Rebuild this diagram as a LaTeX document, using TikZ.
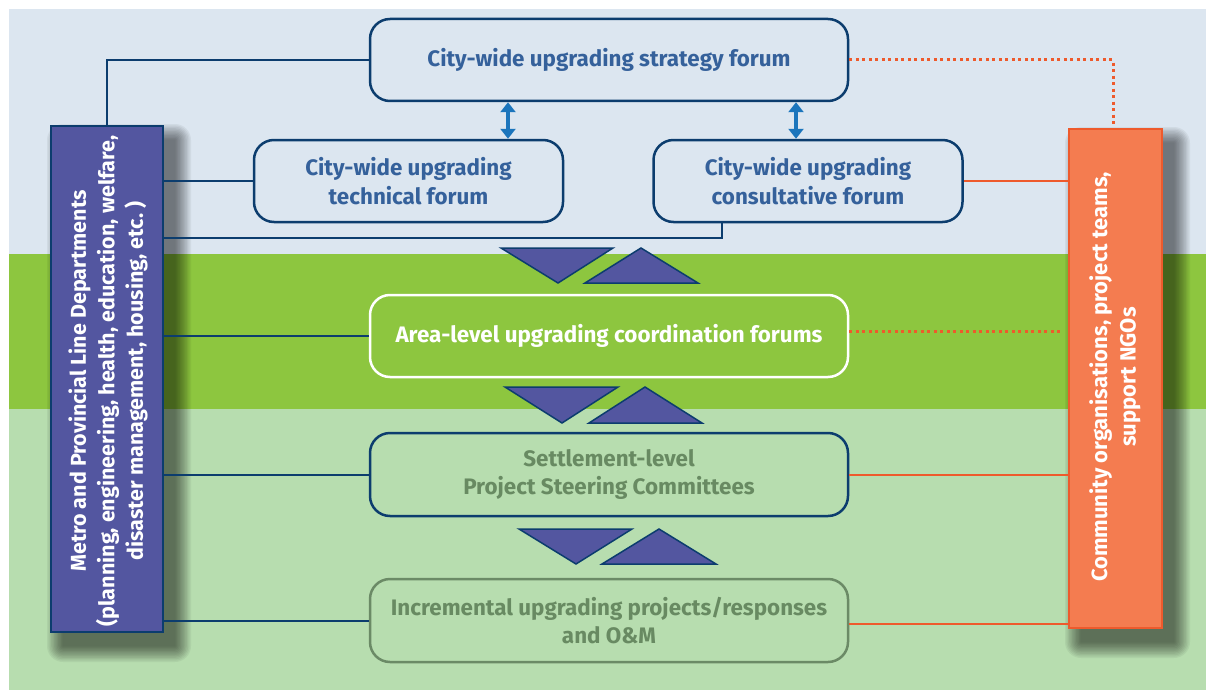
\documentclass[tikz,border=0pt]{standalone}
\usepackage{fontspec}
\setmainfont{Fira Sans}
\usetikzlibrary{arrows.meta}
\definecolor{bgblue}{HTML}{DCE6F0}
\definecolor{bggreen}{HTML}{8DC63F}
\definecolor{bglight}{HTML}{B7DDAF}
\definecolor{navy}{HTML}{0C3D6E}
\definecolor{txtblue}{HTML}{35619B}
\definecolor{txtgreen}{HTML}{688A62}
\definecolor{purplebox}{HTML}{5356A0}
\definecolor{orangefill}{HTML}{F47C50}
\definecolor{orangeline}{HTML}{EE5A2C}
\definecolor{arrowblue}{HTML}{1B75BC}
\definecolor{greyline}{HTML}{6B8A66}
\tikzset{
  forum/.style={draw=navy, line width=2.5pt, rounded corners=20pt, fill=bgblue,
    minimum width=478pt, minimum height=82pt, align=center, inner sep=0pt,
    font=\fontsize{22.4}{28.5}\selectfont\bfseries, text=txtblue},
  smallforum/.style={forum, minimum width=309pt},
  sidebox/.style={line width=2.5pt, inner sep=0pt},
  shadowlayer/.style={fill=black, opacity=0.05},
  conn/.style={draw=navy, line width=2pt},
  oconn/.style={draw=orangeline, line width=2pt},
  odot/.style={draw=orangeline, line width=3pt, dash pattern=on 3pt off 3.5pt},
  dblarrow/.style={draw=arrowblue, line width=3.5pt,
    {Triangle[width=15pt,length=10pt]}-{Triangle[width=15pt,length=10pt]}},
  tri/.style={fill=purplebox, draw=navy, line width=1.5pt, line join=miter},
  sidetext/.style={rotate=90, align=center, text=white,
    font=\fontsize{21.5}{28.5}\selectfont\bfseries}
}
\begin{document}
\begin{tikzpicture}[x=1pt,y=-1pt]
\useasboundingbox (0,0) rectangle (1206,690);
\fill[white] (0,0) rectangle (1206,690);
\fill[bgblue] (9,9) rectangle (1206,254);
\fill[bggreen] (9,254) rectangle (1206,409);
\fill[bglight] (9,409) rectangle (1206,690);

% soft shadows of the side boxes
\foreach \k in {0,...,11}{
  \pgfmathsetmacro{\d}{16-\k*1.4}
  \fill[shadowlayer, rounded corners=\d pt] (51+12-\d,126+14-\d) rectangle (163+12+\d,632+14+\d);
  \fill[shadowlayer, rounded corners=\d pt] (1069+12-\d,129+14-\d) rectangle (1162+12+\d,628+14+\d);
}

% side boxes
\node[sidebox, draw=navy, fill=purplebox, minimum width=112pt, minimum height=506pt] (left) at (107,379) {};
\node[sidetext] (lefttext) at (108,381) {Metro and Provincial Line Departments\\(planning, engineering, health, education, welfare,\\disaster management, housing, etc.\ )};
\node[sidebox, draw=orangeline, fill=orangefill, minimum width=93pt, minimum height=499pt] (right) at (1115.5,378.5) {};
\node[sidetext, font=\fontsize{22}{28.5}\selectfont\bfseries] (righttext) at (1115,377) {Community organisations, project teams,\\support NGOs};

% forums
\node[forum] (strategy) at (609,60) {City-wide upgrading strategy forum};
\node[smallforum] (tech) at (408.5,181) {City-wide upgrading\\technical forum};
\node[smallforum] (cons) at (808,181) {City-wide upgrading\\consultative forum};
\node[forum, draw=white, fill=bggreen, text=white] (area) at (609,336) {\raisebox{5pt}{Area-level upgrading coordination forums}};
\node[forum, fill=bglight, text=txtgreen, minimum height=83pt] (settle) at (609,474.5) {Settlement-level\\Project Steering Committees};
\node[forum, draw=greyline, fill=bglight, text=txtgreen, minimum height=83pt] (incr) at (609,620.5) {Incremental upgrading projects/responses\\and O\&M};

% left connectors
\draw[conn] (left.north) |- (strategy.west);
\draw[conn] (left.east |- tech.west) -- (tech.west);
\draw[conn] (left.east |- 0,238) -| ([xshift=70pt]cons.south west);
\draw[conn] (left.east |- area.west) -- (area.west);
\draw[conn] (left.east |- settle.west) -- (settle.west);
\draw[conn] (left.east |- incr.west) -- (incr.west);

% right connectors
\draw[odot] (strategy.east) -| ([xshift=-2.5pt]right.north);
\draw[oconn] (cons.east) -- (cons.east -| right.west);
\draw[odot] ([yshift=5pt]area.east) -- ([xshift=-4pt,yshift=5pt]area.east -| right.west);
\draw[oconn] (settle.east) -- (settle.east -| right.west);
\draw[oconn] ([yshift=-3pt]incr.east) -- ([yshift=-3pt]incr.east -| right.west);

% double arrows
\draw[dblarrow] ([xshift=99.5pt]tech.north |- strategy.south) -- ([xshift=99.5pt]tech.north);
\draw[dblarrow] ([xshift=-12pt]cons.north |- strategy.south) -- ([xshift=-12pt]cons.north);

% triangles
\draw[tri] (501,248) -- (613,248) -- (558,283) -- cycle;
\draw[tri] (585,283) -- (698,283) -- (641,248) -- cycle;
\draw[tri] (505,387) -- (618,387) -- (562,423) -- cycle;
\draw[tri] (589,423) -- (702,423) -- (645,387) -- cycle;
\draw[tri] (519,529) -- (632,529) -- (576,564) -- cycle;
\draw[tri] (602,564) -- (716,564) -- (659,529) -- cycle;
\end{tikzpicture}
\end{document}
